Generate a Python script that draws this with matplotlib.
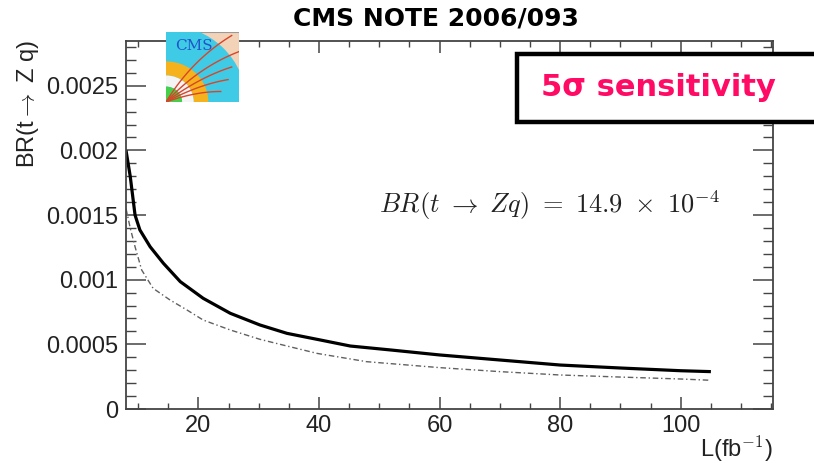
import numpy as np
import matplotlib
matplotlib.use("Agg")
import matplotlib.pyplot as plt
from matplotlib.patches import Rectangle, Wedge
from matplotlib.ticker import MultipleLocator

# ---- data ----
L_solid = [8, 8.7, 9.5, 10.3, 12, 14.2, 17, 20.8, 25.3, 30.2, 34.7, 40.2, 45.2, 52,
           60, 70, 80, 90, 100, 105]
BR_solid = [0.00200, 0.00180, 0.00150, 0.001385, 0.001255, 0.001127, 0.000985, 0.000856,
            0.00074, 0.00065, 0.000585, 0.000534, 0.000487, 0.000456, 0.000418, 0.000379,
            0.00034, 0.000317, 0.000296, 0.000289]
L_dash = [8, 8.7, 9.5, 10.6, 12.5, 15.3, 18.1, 20.8, 25.3, 30.2, 34.7, 39.7, 47.9,
          60, 70, 80, 90, 100, 105]
BR_dash = [0.00155, 0.00140, 0.001255, 0.001075, 0.000933, 0.000843, 0.000766, 0.000688,
           0.000611, 0.000539, 0.000487, 0.00043, 0.000366, 0.00032, 0.000289, 0.000263,
           0.000247, 0.000232, 0.000222]
y_ticks = [0, 0.0005, 0.001, 0.0015, 0.002, 0.0025]
y_ticklabels = ["0", "0.0005", "0.001", "0.0015", "0.002", "0.0025"]
x_ticks = [20, 40, 60, 80, 100]

W, H = 814, 463
fig = plt.figure(figsize=(W / 100, H / 100), dpi=100)
plt.rcParams['mathtext.fontset'] = 'cm'

def fx(px):
    return px / W

def fy(py):
    return 1 - py / H

ax = fig.add_axes([fx(126), fy(409), fx(773) - fx(126), fy(41) - fy(409)])
ax.set_xlim(8, 115.3)
ax.set_ylim(0, 0.002846)

ax.plot(L_dash, BR_dash, color="#606060", lw=1.0, ls=(0, (4, 2, 1, 2)))
ax.plot(L_solid, BR_solid, color="black", lw=2.3, solid_capstyle="butt",
        solid_joinstyle="round")

ax.set_xticks(x_ticks)
ax.set_xticklabels([str(v) for v in x_ticks])
ax.xaxis.set_minor_locator(MultipleLocator(5))
ax.set_yticks(y_ticks)
ax.set_yticklabels(y_ticklabels)
ax.yaxis.set_minor_locator(MultipleLocator(0.0001))

for s in ax.spines.values():
    s.set_color("#444444")
    s.set_linewidth(1.3)

ax.tick_params(axis='x', which='major', direction='in', length=8.6, width=1.1,
               color="#444444", top=True, pad=4.0, labelsize=17, labelcolor="#222222")
ax.tick_params(axis='x', which='minor', direction='in', length=4.3, width=1.0,
               color="#444444", top=True)
ax.tick_params(axis='y', which='major', direction='in', length=14.4, width=1.1,
               color="#444444", right=True, pad=5.5, labelsize=17, labelcolor="#222222")
ax.tick_params(axis='y', which='minor', direction='in', length=7.2, width=1.0,
               color="#444444", right=True)
for lab in ax.get_xticklabels() + ax.get_yticklabels():
    lab.set_family("Liberation Sans")

# axis titles
fig.text(fx(28), fy(40), r"BR(t$\rightarrow$ Z q)", rotation=90, ha="center", va="top",
         family="Liberation Sans", fontsize=17, color="#222222")
fig.text(fx(773), fy(457), r"L(fb$^{\mathsf{-1}}$)", ha="right", va="baseline",
         family="Liberation Sans", fontsize=17, color="#222222")

# title
fig.text(fx(436), fy(19), "CMS NOTE 2006/093", ha="center", va="center",
         family="DejaVu Sans", weight="bold", fontsize=18, color="black")

# formula
fig.text(fx(549), fy(205), r"$BR(t\ \rightarrow\ Zq)\ =\ 14.9\ \times\ 10^{-4}$",
         ha="center", va="center", fontsize=19, color="#222222")

# sensitivity box
box = Rectangle((fx(517), fy(122)), fx(830) - fx(517), fy(54) - fy(122),
                transform=fig.transFigure, facecolor="white", edgecolor="black",
                linewidth=3.2, clip_on=False, zorder=5)
fig.add_artist(box)
fig.text(fx(658), fy(88), "5σ sensitivity", ha="center", va="center",
         family="DejaVu Sans", weight="bold", fontsize=22, color="#ff0a64", zorder=6)

# CMS logo (simple drawing)
lax = fig.add_axes([fx(166), fy(102), fx(239) - fx(166), fy(32) - fy(102)])
lax.set_xlim(0, 1)
lax.set_ylim(0, 1)
lax.axis("off")
lax.add_patch(Rectangle((0, 0), 1, 1, facecolor="#f3d3b8", edgecolor="#999999", lw=0.8))
lax.add_patch(Wedge((0, 0), 1.1, 0, 90, facecolor="#3fcbe6", edgecolor="none"))
lax.add_patch(Wedge((0, 0), 0.58, 0, 90, width=0.2, facecolor="#f5b21c", edgecolor="none"))
lax.add_patch(Wedge((0, 0), 0.38, 0, 90, width=0.16, facecolor="#f4f4f4", edgecolor="none"))
lax.add_patch(Wedge((0, 0), 0.22, 0, 90, facecolor="#44d04a", edgecolor="none"))
t = np.linspace(0, 1, 30)
for (ex, ey, cx, cy) in [(0.9, 0.95, 0.35, 0.6), (1.0, 0.72, 0.45, 0.5),
                         (0.9, 0.5, 0.45, 0.35), (0.85, 0.32, 0.45, 0.25), (0.75, 0.15, 0.4, 0.15)]:
    bx = 2 * (1 - t) * t * cx + t ** 2 * ex
    by = 2 * (1 - t) * t * cy + t ** 2 * ey
    lax.plot(bx, by, color="#d8452a", lw=1.0)
lax.text(0.38, 0.8, "CMS", ha="center", va="center", family="DejaVu Serif",
         fontsize=11, color="#1f55c8")

fig.savefig("out.png", dpi=100)
